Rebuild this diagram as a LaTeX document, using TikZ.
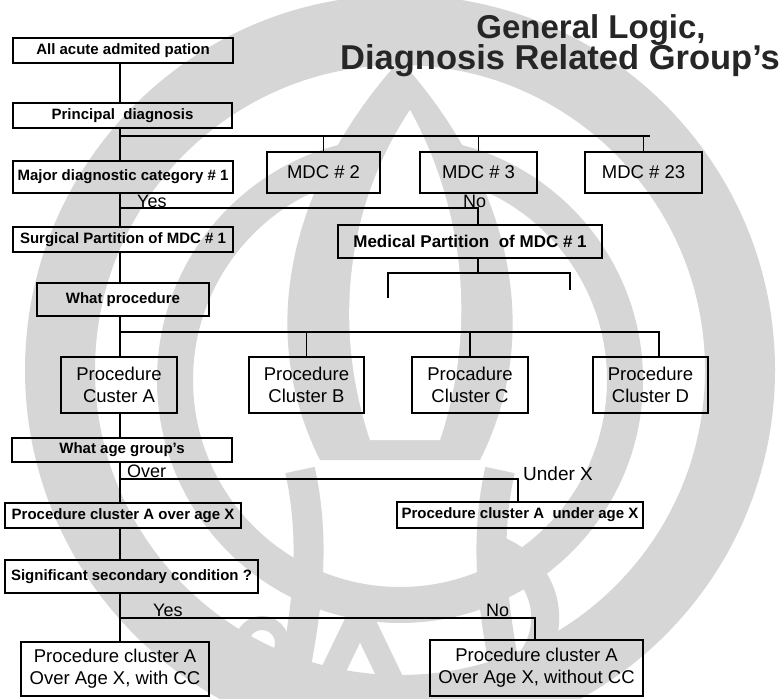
\documentclass[tikz,border=0pt]{standalone}
\usepackage{fontspec}
\setmainfont{Liberation Sans}
\definecolor{wmgray}{RGB}{214,214,214}
\begin{document}
\begin{tikzpicture}[x=1pt,y=-1pt,
  box/.style={draw, line width=1.3pt, inner sep=0pt, align=center},
  sm/.style={font=\bfseries\fontsize{15}{17}\selectfont},
  bg/.style={font=\fontsize{18.5}{22}\selectfont},
  lbl/.style={font=\fontsize{18}{20}\selectfont, inner sep=0pt},
  ttl/.style={font=\bfseries\fontsize{33}{36}\selectfont, inner sep=0pt, text=black!85},
  conn/.style={line width=1.3pt},
  wm/.style={draw=wmgray}]
\useasboundingbox (0,0) rectangle (783,698);
\fill[white] (0,0) rectangle (783,698);
% watermark (faint logo)
\begin{scope}
\clip (0,0) rectangle (783,698);
\draw[wm, line width=70pt] (400,370) circle (340);
\draw[wm, line width=36pt] (400,380) circle (225);
\fill[wmgray] (400,60) .. controls (300,170) and (250,320) .. (320,460) -- (480,460) .. controls (550,320) and (500,170) .. (400,60) -- cycle;
\fill[white] (410,110) .. controls (350,200) and (330,320) .. (370,440) -- (440,440) .. controls (480,320) and (460,200) .. (410,110) -- cycle;
\draw[wm, line width=30pt] (300,470) .. controls (320,560) and (300,640) .. (290,698);
\draw[wm, line width=30pt] (500,470) .. controls (480,560) and (500,640) .. (510,698);
\draw[wm, line width=14pt] (262,643) circle (20);
\draw[wm, line width=24pt] (320,698) -- (360,615) -- (400,698);
\draw[wm, line width=28pt] (480,545) .. controls (560,560) and (570,660) .. (490,690);
\end{scope}
% spine
\coordinate (sp) at (120,0);
% title
\node[ttl, anchor=base] (t1) at (591,39) {General Logic,};
\node[ttl, anchor=base, font=\bfseries\fontsize{34.5}{38}\selectfont] (t2) at (560,70) {Diagnosis Related Group's};
% boxes
\node[box, sm, minimum width=220, minimum height=25] (b1) at (123,50.5) {All acute admited pation};
\node[box, sm, minimum width=219, minimum height=25] (b2) at (122.5,115.5) {Principal\ \ diagnosis};
\node[box, sm, minimum width=220, minimum height=32] (m1) at (123,177) {Major diagnostic category \# 1};
\node[box, bg, minimum width=113, minimum height=41] (m2) at (323.5,172.5) {MDC \# 2};
\node[box, bg, minimum width=117, minimum height=41] (m3) at (478.5,172.5) {MDC \# 3};
\node[box, bg, minimum width=117, minimum height=41] (m23) at (643.5,172.5) {MDC \# 23};
\node[box, sm, minimum width=220, minimum height=25] (surg) at (123,239.5) {Surgical Partition of MDC \# 1};
\node[box, font=\fontsize{17}{20}\selectfont\bfseries, minimum width=264, minimum height=33] (med) at (470,241.5) {Medical Partition\ \ of MDC \# 1};
\node[box, sm, minimum width=172, minimum height=33] (wp) at (123,299.5) {What procedure};
\node[box, bg, minimum width=116, minimum height=56] (cA) at (119,385) {Procedure\\Custer A};
\node[box, bg, minimum width=115, minimum height=56] (cB) at (306.5,385) {Procedure\\Cluster B};
\node[box, bg, minimum width=116, minimum height=56] (cC) at (470,385) {Procadure\\Cluster C};
\node[box, bg, minimum width=115, minimum height=56] (cD) at (650.5,385) {Procedure\\Cluster D};
\node[box, sm, minimum width=220, minimum height=24] (age) at (122,450) {What age group's};
\node[box, sm, minimum width=236, minimum height=25] (ov) at (123,515.5) {Procedure cluster A over age X};
\node[box, sm, minimum width=246, minimum height=26] (un) at (520,515) {Procedure cluster A\ \ under age X};
\node[box, sm, minimum width=253, minimum height=33] (sig) at (131.5,576.5) {Significant secondary condition ?};
\node[box, bg, minimum width=188, minimum height=54] (cc1) at (115,669) {Procedure cluster A\\Over Age X, with CC};
\node[box, bg, minimum width=213, minimum height=56] (cc2) at (536.5,668) {Procedure cluster A\\Over Age X, without CC};
% coordinates for branches
\coordinate (j1) at (120,136);
\coordinate (j1e) at (650,136);
\coordinate (j2) at (120,208);
\coordinate (j2e) at (478,208);
\coordinate (br) at (478,273);
\coordinate (brl) at (388,273);
\coordinate (brr) at (570,273);
\coordinate (brlb) at (388,298);
\coordinate (brrb) at (570,290);
\coordinate (j3) at (120,332);
\coordinate (j3e) at (659,332);
\coordinate (j4) at (120,479);
\coordinate (j4e) at (518,479);
\coordinate (j5) at (120,618);
\coordinate (j5e) at (535,618);
% connectors
\draw[conn] (b1.south -| sp) -- (b2.north -| sp);
\draw[conn] (b2.south -| sp) -- (m1.north -| sp);
\draw[conn] (j1) -- (j1e);
\draw[conn] (m2.north) -- (m2.north |- j1);
\draw[conn] (m3.north) -- (m3.north |- j1);
\draw[conn] (m23.north) -- (m23.north |- j1);
\draw[conn] (m1.south -| sp) -- (surg.north -| sp);
\draw[conn] (j2) -- (j2e) -- (j2e |- med.north);
\draw[conn] (med.south -| br) -- (br);
\draw[conn] (brlb) -- (brl) -- (brr) -- (brrb);
\draw[conn] (surg.south -| sp) -- (wp.north -| sp);
\draw[conn] (wp.south -| sp) -- (cA.north -| sp);
\draw[conn] (j3) -- (j3e) -- (j3e |- cD.north);
\draw[conn] (cB.north) -- (cB.north |- j3);
\draw[conn] (cC.north) -- (cC.north |- j3);
\draw[conn] (cA.south -| sp) -- (age.north -| sp);
\draw[conn] (age.south -| sp) -- (ov.north -| sp);
\draw[conn] (j4) -- (j4e) -- (j4e |- un.north);
\draw[conn] (ov.south -| sp) -- (sig.north -| sp);
\draw[conn] (sig.south -| sp) -- (cc1.north -| sp);
\draw[conn] (j5) -- (j5e) -- (j5e |- cc2.north);
% labels
\node[lbl, anchor=base west] (yes1) at (137,207) {Yes};
\node[lbl, anchor=base west] (no1) at (463,207) {No};
\node[lbl, anchor=base west] (over) at (127,477) {Over};
\node[lbl, anchor=base west, font=\fontsize{19}{21}\selectfont] (under) at (523,480) {Under X};
\node[lbl, anchor=base west] (yes2) at (153,616) {Yes};
\node[lbl, anchor=base west] (no2) at (486,616) {No};
\end{tikzpicture}
\end{document}
